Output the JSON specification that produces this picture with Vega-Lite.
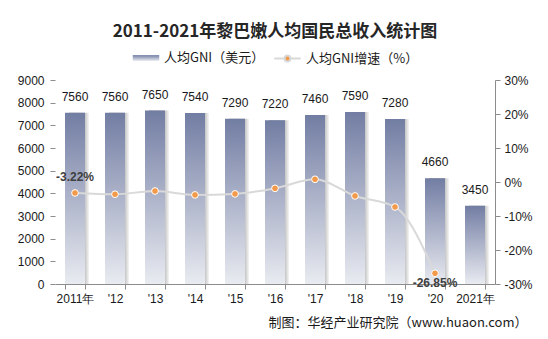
{
  "$schema": "https://vega.github.io/schema/vega-lite/v6.json",
  "width": 440,
  "height": 204,
  "autosize": {"type": "none"},
  "padding": {"left": 55, "top": 80, "right": 53, "bottom": 55},
  "background": "white",
  "title": {
    "text": "2011-2021年黎巴嫩人均国民总收入统计图",
    "font": "Noto Sans CJK SC",
    "fontSize": 17,
    "fontWeight": "bold",
    "color": "#262626",
    "anchor": "middle",
    "offset": 5,
    "dy": 2
  },
  "data": {
    "values": [
      {"year": "2011年", "gni": 7560, "growth": -3.22},
      {"year": "'12", "gni": 7560, "growth": -3.6},
      {"year": "'13", "gni": 7650, "growth": -2.65},
      {"year": "'14", "gni": 7540, "growth": -3.8},
      {"year": "'15", "gni": 7290, "growth": -3.5},
      {"year": "'16", "gni": 7220, "growth": -1.86},
      {"year": "'17", "gni": 7460, "growth": 0.8},
      {"year": "'18", "gni": 7590, "growth": -4.1},
      {"year": "'19", "gni": 7280, "growth": -7.35},
      {"year": "'20", "gni": 4660, "growth": -26.85},
      {"year": "2021年", "gni": 3450, "growth": null}
    ]
  },
  "encoding": {
    "x": {
      "field": "year",
      "type": "nominal",
      "sort": null,
      "scale": {"paddingInner": 0.5, "paddingOuter": 0.25},
      "axis": {
        "title": "制图：华经产业研究院（www.huaon.com）",
        "titleFont": "Noto Sans CJK SC",
        "titleFontSize": 13,
        "titleFontWeight": "normal",
        "titleColor": "#1a1a1a",
        "titleAlign": "right",
        "titleAnchor": null,
        "titleX": 472,
        "titleY": 42,
        "titleBaseline": "alphabetic",
        "labelAngle": 0,
        "labelFont": "Liberation Sans",
        "labelFontSize": 12,
        "labelColor": "#1a1a1a",
        "labelPadding": 4,
        "tickBand": "extent",
        "tickColor": "#8c8c8c",
        "domainColor": "#8c8c8c",
        "tickSize": 5
      }
    }
  },
  "layer": [
    {
      "encoding": {
        "y": {
          "field": "gni",
          "type": "quantitative",
          "scale": {"domain": [0, 9000]},
          "axis": {
            "title": null,
            "values": [0, 1000, 2000, 3000, 4000, 5000, 6000, 7000, 8000, 9000],
            "format": "d",
            "labelOverlap": false,
            "grid": false,
            "domain": false,
            "tickColor": "#8c8c8c",
            "tickSize": 5,
            "labelFont": "Liberation Sans",
            "labelFontSize": 12,
            "labelColor": "#1a1a1a",
            "labelPadding": 6
          }
        }
      },
      "layer": [
        {
          "mark": {
            "type": "bar",
            "xOffset": 4,
            "color": {
              "gradient": "linear", "x1": 0, "y1": 0, "x2": 1, "y2": 0,
              "stops": [
                {"offset": 0, "color": "#9a9a9a"},
                {"offset": 0.75, "color": "#b8b8b8"},
                {"offset": 1, "color": "#f6f6f6"}
              ]
            }
          }
        },
        {
          "mark": {"type": "bar"},
          "encoding": {
            "fill": {
              "datum": "人均GNI（美元）",
              "scale": {
                "range": [
                  {"expr": "{gradient: 'linear', x1: 0, y1: 0, x2: 0, y2: 1, stops: [{offset: 0, color: '#727da3'}, {offset: 1, color: '#e9ebf1'}]}"}
                ]
              },
              "legend": {
                "title": null,
                "orient": "top",
                "offset": 14,
                "symbolType": "M-1,-0.22H1V0.22H-1Z",
                "symbolSize": 700,
                "labelFont": "Noto Sans CJK SC",
                "labelFontSize": 13,
                "labelColor": "#1a1a1a",
                "labelOffset": 4
              }
            }
          }
        },
        {
          "mark": {
            "type": "text",
            "dy": -9,
            "baseline": "bottom",
            "font": "Liberation Sans",
            "fontSize": 12,
            "color": "#1a1a1a"
          },
          "encoding": {
            "text": {"field": "gni", "type": "quantitative", "format": "d"}
          }
        }
      ]
    },
    {
      "encoding": {
        "y": {
          "field": "growth",
          "type": "quantitative",
          "scale": {"domain": [-30, 30]},
          "axis": {
            "title": null,
            "orient": "right",
            "values": [-30, -20, -10, 0, 10, 20, 30],
            "labelExpr": "datum.value + '%'",
            "labelOverlap": false,
            "grid": false,
            "domain": true,
            "domainColor": "#8c8c8c",
            "tickColor": "#8c8c8c",
            "tickSize": 5,
            "labelFont": "Liberation Sans",
            "labelFontSize": 12,
            "labelColor": "#1a1a1a",
            "labelPadding": 4
          }
        }
      },
      "layer": [
        {
          "mark": {"type": "line", "interpolate": "monotone", "strokeWidth": 2},
          "encoding": {
            "stroke": {
              "datum": "人均GNI增速（%）",
              "scale": {"range": ["#d9d9d9"]},
              "legend": {
                "title": null,
                "orient": "top",
                "offset": 14,
                "symbolType": "M-1,0H-0.22M0.22,0H1M-0.22,0A0.22,0.22,0,1,0,0.22,0A0.22,0.22,0,1,0,-0.22,0Z",
                "symbolSize": 700,
                "symbolStrokeWidth": 2,
                "labelFont": "Noto Sans CJK SC",
                "labelFontSize": 13,
                "labelColor": "#1a1a1a",
                "labelOffset": 4,
                "encode": {"symbols": {"update": {"fill": {"value": "#f39a4a"}}}}
              }
            }
          }
        },
        {
          "mark": {"type": "point", "filled": true, "size": 45, "color": "#f39a4a", "stroke": "white", "strokeWidth": 1, "opacity": 1}
        },
        {
          "transform": [
            {"filter": "datum.year == '2011年'"},
            {"calculate": "datum.growth + '%'", "as": "label"}
          ],
          "mark": {"type": "text", "dy": -16, "font": "Liberation Sans", "fontSize": 12, "fontWeight": "bold", "color": "#404040"},
          "encoding": {
            "text": {"field": "label", "type": "nominal"}
          }
        },
        {
          "transform": [
            {"filter": "datum.year == \"'20\""},
            {"calculate": "datum.growth + '%'", "as": "label"}
          ],
          "mark": {"type": "text", "dy": 10, "font": "Liberation Sans", "fontSize": 12, "fontWeight": "bold", "color": "#404040"},
          "encoding": {
            "text": {"field": "label", "type": "nominal"}
          }
        }
      ]
    }
  ],
  "resolve": {"scale": {"y": "independent", "fill": "independent", "stroke": "independent"}},
  "config": {
    "view": {"stroke": null},
    "legend": {"layout": {"top": {"anchor": "middle", "direction": "horizontal"}}}
  }
}
